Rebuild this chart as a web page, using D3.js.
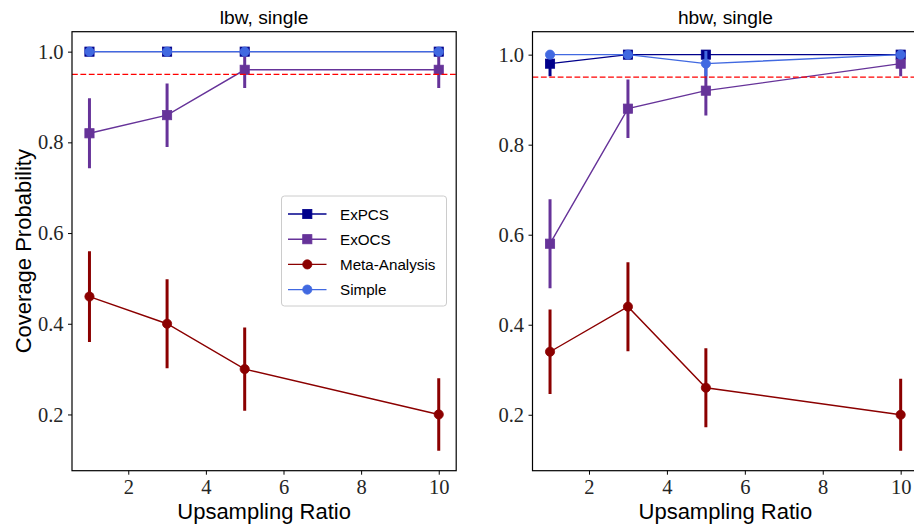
<!DOCTYPE html>
<html>
<head>
<meta charset="utf-8">
<script src="https://cdn.jsdelivr.net/npm/d3@7"></script>
<style>
  html, body { margin: 0; padding: 0; background: #fff; }
  svg { display: block; }
  .tick text { font-family: "Liberation Serif", "DejaVu Serif", serif; font-size: 20.5px; fill: #262626; }
  .axis-label, .panel-title, .legend-text { font-family: "Liberation Sans", "DejaVu Sans", sans-serif; fill: #000; }
</style>
</head>
<body>
<svg id="chart" width="914" height="527"></svg>
<script>
// Upsampling ratios on the x axis
const upsamplingRatios = [1, 3, 5, 10];
const xTicks = [2, 4, 6, 8, 10];
const yTicks = [0.2, 0.4, 0.6, 0.8, 1.0];
const targetCoverage = 0.95;

const seriesNames = ["ExPCS", "ExOCS", "Meta-Analysis", "Simple"];
const seriesColors = ["#00008b", "#663399", "#8b0000", "#4169e1"];
const seriesMarkers = ["square", "square", "circle", "circle"];

// lbw, single: coverage probability and half-width of its error bar
const lbwExPCS = [1.0, 1.0, 1.0, 1.0];
const lbwExPCSErr = [0, 0, 0, 0];
const lbwExOCS = [0.82, 0.86, 0.96, 0.96];
const lbwExOCSErr = [0.077, 0.07, 0.04, 0.04];
const lbwMeta = [0.46, 0.40, 0.30, 0.20];
const lbwMetaErr = [0.1, 0.098, 0.092, 0.08];
const lbwSimple = [1.0, 1.0, 1.0, 1.0];
const lbwSimpleErr = [0, 0, 0, 0];

// hbw, single
const hbwExPCS = [0.98, 1.0, 1.0, 1.0];
const hbwExPCSErr = [0.028, 0, 0, 0];
const hbwExOCS = [0.58, 0.88, 0.92, 0.98];
const hbwExOCSErr = [0.099, 0.065, 0.055, 0.028];
const hbwMeta = [0.34, 0.44, 0.26, 0.20];
const hbwMetaErr = [0.094, 0.099, 0.088, 0.08];
const hbwSimple = [1.0, 1.0, 0.98, 1.0];
const hbwSimpleErr = [0, 0, 0.028, 0];

const panels = [
  {
    title: "lbw, single",
    values: [lbwExPCS, lbwExOCS, lbwMeta, lbwSimple],
    errors: [lbwExPCSErr, lbwExOCSErr, lbwMetaErr, lbwSimpleErr],
    xRange: [72, 456.2], yDomain: [0.076, 1.044], showYLabel: true, legend: true
  },
  {
    title: "hbw, single",
    values: [hbwExPCS, hbwExOCS, hbwMeta, hbwSimple],
    errors: [hbwExPCSErr, hbwExOCSErr, hbwMetaErr, hbwSimpleErr],
    xRange: [532.5, 918.2], yDomain: [0.0757, 1.051], showYLabel: false, legend: false
  }
];

const svg = d3.select("#chart");
const plotTop = 31.7, plotBottom = 470.7;
const markerSize = 9.2;

function drawMarker(g, type, cx, cy, color) {
  if (type === "square") {
    g.append("rect")
      .attr("x", cx - markerSize / 2).attr("y", cy - markerSize / 2)
      .attr("width", markerSize).attr("height", markerSize)
      .attr("fill", color).attr("stroke", color).attr("stroke-width", 0.8);
  } else {
    g.append("circle")
      .attr("cx", cx).attr("cy", cy).attr("r", markerSize / 2)
      .attr("fill", color).attr("stroke", color).attr("stroke-width", 0.8);
  }
}

panels.forEach((p, pi) => {
  const x = d3.scaleLinear().domain([0.55, 10.45]).range(p.xRange);
  const y = d3.scaleLinear().domain(p.yDomain).range([plotBottom, plotTop]);
  const g = svg.append("g");

  const clipId = "clip" + pi;
  svg.append("clipPath").attr("id", clipId)
    .append("rect")
    .attr("x", p.xRange[0]).attr("y", plotTop)
    .attr("width", p.xRange[1] - p.xRange[0]).attr("height", plotBottom - plotTop);

  const plot = g.append("g").attr("clip-path", `url(#${clipId})`);

  p.values.forEach((vals, si) => {
    const color = seriesColors[si];
    const errs = p.errors[si];
    const pts = upsamplingRatios.map((r, i) => ({ r, v: vals[i], e: errs[i] }));
    const sg = plot.append("g");

    sg.append("path")
      .datum(pts)
      .attr("fill", "none")
      .attr("stroke", color)
      .attr("stroke-width", 1.4)
      .attr("d", d3.line().x(d => x(d.r)).y(d => y(d.v)));

    sg.selectAll("line.err")
      .data(pts.filter(d => d.e > 0))
      .join("line")
      .attr("class", "err")
      .attr("x1", d => x(d.r)).attr("x2", d => x(d.r))
      .attr("y1", d => y(d.v - d.e)).attr("y2", d => y(d.v + d.e))
      .attr("stroke", color)
      .attr("stroke-width", 3);

    pts.forEach(d => drawMarker(sg, seriesMarkers[si], x(d.r), y(d.v), color));
  });

  // target coverage reference line
  plot.append("line")
    .attr("x1", p.xRange[0]).attr("x2", p.xRange[1])
    .attr("y1", y(targetCoverage)).attr("y2", y(targetCoverage))
    .attr("stroke", "#ff0000").attr("stroke-width", 1.4)
    .attr("stroke-dasharray", "5.8,2.6");

  // axes frame
  g.append("rect")
    .attr("x", p.xRange[0]).attr("y", plotTop)
    .attr("width", p.xRange[1] - p.xRange[0]).attr("height", plotBottom - plotTop)
    .attr("fill", "none").attr("stroke", "#000").attr("stroke-width", 1.2);

  const xAxis = g.append("g")
    .attr("transform", `translate(0,${plotBottom})`)
    .call(d3.axisBottom(x).tickValues(xTicks).tickFormat(d3.format("d")).tickSize(4).tickPadding(5));
  xAxis.select(".domain").remove();
  xAxis.selectAll(".tick line").attr("stroke", "#000").attr("stroke-width", 1);

  const yAxis = g.append("g")
    .attr("transform", `translate(${p.xRange[0]},0)`)
    .call(d3.axisLeft(y).tickValues(yTicks).tickFormat(d3.format(".1f")).tickSize(4).tickPadding(4.5));
  yAxis.select(".domain").remove();
  yAxis.selectAll(".tick line").attr("stroke", "#000").attr("stroke-width", 1);

  const cx = (p.xRange[0] + p.xRange[1]) / 2;
  g.append("text").attr("class", "panel-title")
    .attr("x", cx).attr("y", 24)
    .attr("text-anchor", "middle").style("font-size", "19.2px")
    .text(p.title);

  g.append("text").attr("class", "axis-label")
    .attr("x", cx).attr("y", 519)
    .attr("text-anchor", "middle").style("font-size", "22px")
    .text("Upsampling Ratio");

  if (p.showYLabel) {
    g.append("text").attr("class", "axis-label")
      .attr("transform", `translate(31,${(plotTop + plotBottom) / 2}) rotate(-90)`)
      .attr("text-anchor", "middle").style("font-size", "22px")
      .text("Coverage Probability");
  }

  if (p.legend) {
    const lg = g.append("g").attr("transform", "translate(281.5,196)");
    lg.append("rect")
      .attr("width", 165).attr("height", 110).attr("rx", 3)
      .attr("fill", "#fff").attr("fill-opacity", 0.8)
      .attr("stroke", "#cccccc").attr("stroke-width", 1);
    seriesNames.forEach((name, si) => {
      const ly = 18 + si * 25.2;
      lg.append("line")
        .attr("x1", 6.5).attr("x2", 45).attr("y1", ly).attr("y2", ly)
        .attr("stroke", seriesColors[si]).attr("stroke-width", 1.4);
      drawMarker(lg, seriesMarkers[si], 25.8, ly, seriesColors[si]);
      lg.append("text").attr("class", "legend-text")
        .attr("x", 58.5).attr("y", ly + 5.5)
        .style("font-size", "15.2px")
        .text(name);
    });
  }
});
</script>
</body>
</html>
